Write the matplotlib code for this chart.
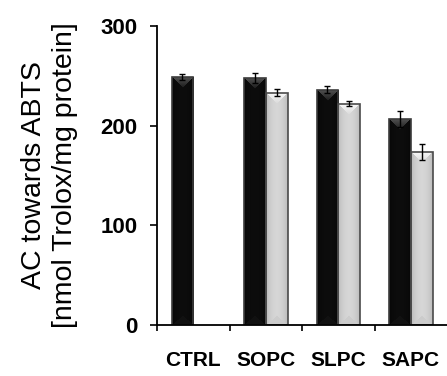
import numpy as np
import matplotlib
matplotlib.use("Agg")
import matplotlib.pyplot as plt

plt.rcParams['font.family'] = ['Liberation Sans', 'DejaVu Sans']

categories = ["CTRL", "SOPC", "SLPC", "SAPC"]
black_values = [249, 248, 236, 207]
black_errors = [3, 5, 3.5, 8]
grey_values = [np.nan, 233, 222, 174]
grey_errors = [np.nan, 3.5, 2.5, 8]
yticks = [0, 100, 200, 300]
ylabel = "AC towards ABTS\n[nmol Trolox/mg protein]"

fig = plt.figure(figsize=(4.47, 3.76), dpi=100)
ax = fig.add_axes([157/447, 1-325/376, 290/447, (325-26)/376])
ax.set_xlim(-0.5, 3.5)
ax.set_ylim(0, 300)

x = np.arange(len(categories))
w = 0.30


def bevel(ax, patches, base_side, base_mid, top_hi, top_lo, bot):
    for p in patches:
        bb = p.get_bbox()
        (px0, py0), (px1, py1) = ax.transData.transform([[bb.x0, bb.y0], [bb.x1, bb.y1]])
        W = max(int(round(px1 - px0)), 2)
        H = max(int(round(py1 - py0)), 2)
        jj = np.arange(W)[None, :].astype(float)
        ii = np.arange(H)[:, None].astype(float)
        d_side = np.minimum(jj, W - 1 - jj)
        half = (W - 1) / 2.0
        t = 1 - d_side / half
        base = base_mid + (base_side - base_mid) * t ** 2
        img = np.repeat(base, H, axis=0)
        d_top = ii
        top = (d_top <= d_side)
        frac = np.clip(d_top / half, 0, 1)
        topcol = top_hi + (top_lo - top_hi) * frac
        img = np.where(top, np.broadcast_to(topcol, img.shape), img)
        d_bot = H - 1 - ii
        botm = (d_bot <= d_side * 0.8)
        img = np.where(botm, bot, img)
        rgb = np.dstack([img, img, img])
        im = ax.imshow(rgb, extent=(bb.x0, bb.x1, bb.y0, bb.y1), aspect="auto",
                       interpolation="bilinear", zorder=2, origin="upper")
        im.set_clip_path(p)


bars_b = ax.bar(x - 0.15, black_values, width=w, color="#0a0a0a", edgecolor="none",
                linewidth=0, zorder=1.5)
bevel(ax, bars_b, 0.03, 0.05, 0.33, 0.12, 0.07)
ax.bar(x - 0.15, black_values, width=w, fill=False, edgecolor="#3c3c3c",
       linewidth=1.2, zorder=2.5)
ax.errorbar(x - 0.15, black_values, yerr=black_errors, fmt="none", ecolor="black",
            elinewidth=1.0, capsize=2.2, capthick=1.0, zorder=3)

gv = np.array(grey_values, dtype=float)
ge = np.array(grey_errors, dtype=float)
m = ~np.isnan(gv)
bars_g = ax.bar(x[m] + 0.15, gv[m], width=w, color="#cdcdcd", edgecolor="none",
                linewidth=0, zorder=1.5)
bevel(ax, bars_g, 0.74, 0.84, 0.98, 0.86, 0.80)
ax.bar(x[m] + 0.15, gv[m], width=w, fill=False, edgecolor="#4a4a4a",
       linewidth=1.2, zorder=2.5)
ax.errorbar(x[m] + 0.15, gv[m], yerr=ge[m], fmt="none", ecolor="black",
            elinewidth=1.0, capsize=2.2, capthick=1.0, zorder=3)

ax.set_xlim(-0.5, 3.5)
ax.set_ylim(0, 300)
ax.set_yticks(yticks)
ax.set_yticklabels([str(t) for t in yticks], fontsize=16, fontweight="bold")
ax.set_xticks(x)
ax.set_xticklabels(categories, fontsize=15, fontweight="bold")
ax.set_xticks(np.arange(-0.5, 3.0, 1.0), minor=True)
ax.tick_params(axis="x", which="major", length=0, pad=19)
ax.tick_params(axis="x", which="minor", length=4.5, width=1.2, direction="out")
ax.tick_params(axis="y", which="major", length=5, width=1.2, direction="out", pad=9)

for s in ["top", "right"]:
    ax.spines[s].set_visible(False)
for s in ["left", "bottom"]:
    ax.spines[s].set_linewidth(1.3)
    ax.spines[s].set_clip_on(False)

ax.set_ylabel(ylabel, fontsize=20.5, linespacing=1.25, labelpad=16)

fig.savefig("out.png", dpi=100)
